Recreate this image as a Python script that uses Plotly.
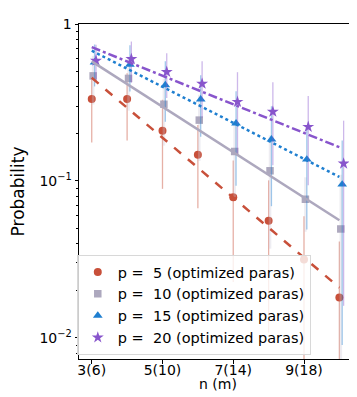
import plotly.graph_objects as go

n_vals = [3, 4, 5, 6, 7, 8, 9, 10]
tick_vals = [3, 5, 7, 9]
tick_text = ["3(6)", "5(10)", "7(14)", "9(18)"]

p5 = [0.333, 0.333, 0.209, 0.147, 0.0787, 0.0558, 0.0316, 0.0181]
p5_err = [0.157, 0.152, 0.12, 0.08, 0.056, 0.045, 0.028, 0.023]
p10 = [0.467, 0.450, 0.308, 0.244, 0.154, 0.116, 0.0764, 0.0494]
p10_err = [0.16, 0.17, 0.14, 0.11, 0.075, 0.079, 0.029, 0.06]
p15 = [0.57, 0.551, 0.408, 0.331, 0.233, 0.184, 0.137, 0.095]
p15_err = [0.17, 0.18, 0.17, 0.14, 0.14, 0.115, 0.088, 0.086]
p20 = [0.584, 0.598, 0.495, 0.416, 0.319, 0.276, 0.221, 0.129]
p20_err = [0.153, 0.175, 0.157, 0.162, 0.174, 0.15, 0.127, 0.113]

fit_n = [3, 10]
fit5 = [0.454, 0.0209]
fit10 = [0.578, 0.0561]
fit15 = [0.676, 0.106]
fit20 = [0.712, 0.164]

labels = ["p =  5 (optimized paras)", "p =  10 (optimized paras)",
          "p =  15 (optimized paras)", "p =  20 (optimized paras)"]
offsets = [0.0, 0.04, 0.08, 0.12]

colors = ["#C8503A", "#ADA8BE", "#1F7FD0", "#8855CC"]
err_colors = ["rgba(200,80,58,0.45)", "rgba(200,196,212,0.3)",
              "rgba(31,127,208,0.42)", "rgba(136,85,204,0.42)"]
err_widths = [1.3, 2.6, 1.3, 1.3]
symbols = ["circle", "square", "triangle-up", "star"]
sizes = [8, 7.5, 8.5, 9]
dashes = ["dash", "solid", "dot", "dashdot"]

series = [p5, p10, p15, p20]
errs = [p5_err, p10_err, p15_err, p20_err]
fits = [fit5, fit10, fit15, fit20]

fig = go.Figure()

# data with error bars
for i in range(4):
    fig.add_trace(go.Scatter(
        x=[n + offsets[i] for n in n_vals], y=series[i], mode="markers",
        name=labels[i],
        marker=dict(symbol=symbols[i], size=sizes[i], color=colors[i],
                    line=dict(width=0)),
        error_y=dict(type="data", array=errs[i], symmetric=True,
                     color=err_colors[i], thickness=err_widths[i], width=0),
        ))

# fit lines
for i in range(4):
    fig.add_trace(go.Scatter(
        x=fit_n, y=fits[i], mode="lines",
        line=dict(color=colors[i], width=2.5, dash=dashes[i]),
        showlegend=False, hoverinfo="skip"))

fig.update_layout(
    width=357, height=397,
    margin=dict(l=66, r=8, t=12, b=46),
    plot_bgcolor="white", paper_bgcolor="white",
    font=dict(family="DejaVu Sans", size=14, color="black"),
    showlegend=True,
    legend=dict(x=-0.008, y=0.012, xanchor="left", yanchor="bottom",
                bgcolor="rgba(255,255,255,0.8)", bordercolor="#D8D8D8",
                borderwidth=1, font=dict(size=14.5),
                itemsizing="trace", tracegroupgap=0),
    annotations=[dict(text="n (m)", xref="paper", yref="paper",
                      x=0.5, y=-0.076, xanchor="center", yanchor="middle",
                      showarrow=False, font=dict(size=14))],
)

fig.update_xaxes(
    range=[2.64, 10.47], tickvals=tick_vals, ticktext=tick_text,
    showgrid=False, zeroline=False, showline=True, linecolor="black",
    linewidth=1, mirror=True, ticks="outside", ticklen=3.5, tickcolor="black",
    ticklabelstandoff=-5,
)

minor_vals = [k * 10 ** e for e in (-3, -2, -1) for k in range(2, 10)]
fig.update_yaxes(
    type="log", range=[-2.135, 0.0],
    tickvals=[0.01, 0.1, 1], ticktext=["10<sup>−2</sup>", "10<sup>−1</sup>", "1"],
    showgrid=False, zeroline=False, showline=True, linecolor="black",
    linewidth=1, mirror=True, ticks="outside", ticklen=3.5, tickcolor="black",
    minor=dict(tickvals=minor_vals, ticks="outside", ticklen=2,
               tickcolor="black", showgrid=False),
    title=dict(text="Probability", standoff=12),
)

fig.write_html("out.html")
